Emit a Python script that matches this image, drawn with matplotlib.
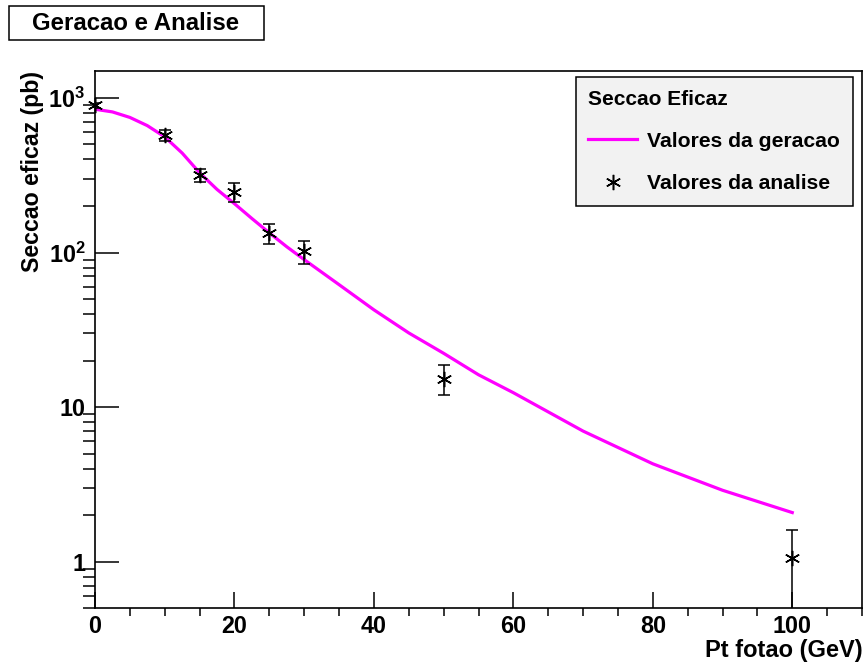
import matplotlib
matplotlib.use("Agg")
import matplotlib.pyplot as plt
from matplotlib.ticker import FixedLocator, LogLocator, MultipleLocator, NullFormatter, FixedFormatter
import numpy as np

# generation curve
curve_pt = [0, 2.5, 5, 7.5, 10, 12.5, 15, 17.5, 20, 22.5, 25, 27.5, 30, 35, 40, 45,
            50, 55, 60, 70, 80, 90, 100]
curve_xsec = [845, 812, 748, 662, 560, 440, 328, 256, 207, 166, 134, 109, 90, 62, 42.6,
              30.2, 22.3, 16.2, 12.4, 7.0, 4.3, 2.9, 2.08]

# analysis points
ana_pt = [0, 10, 15, 20, 25, 30, 50, 100]
ana_xsec = [897, 574, 317, 246, 134, 102, 15.3, 1.05]
ana_err = [30, 46, 30, 34, 20, 17.5, 3.4, 0.56]

y_ticks = [1, 10, 100, 1000]
y_labels = ["1", "10", r"$10^{2}$", r"$10^{3}$"]

plt.rcParams["font.family"] = ["Liberation Sans", "DejaVu Sans"]
plt.rcParams["font.weight"] = "bold"
plt.rcParams["mathtext.fontset"] = "custom"
plt.rcParams["mathtext.rm"] = "Liberation Sans:bold"
plt.rcParams["mathtext.it"] = "Liberation Sans:bold"
plt.rcParams["mathtext.bf"] = "Liberation Sans:bold"


def main() -> None:
    fig = plt.figure(figsize=(8.65, 6.66), dpi=100)
    W, H = 865, 666
    ax = fig.add_axes([95 / W, 1 - 608.3 / H, (862 - 95) / W, (608.3 - 70.7) / H])

    ax.plot(curve_pt, curve_xsec, color="#ff00ff", lw=2.3, label="Valores da geracao")
    ax.errorbar(ana_pt, ana_xsec, yerr=ana_err, fmt="none", ecolor="black",
                elinewidth=1.1, capsize=4, capthick=1.1)
    ax.plot(ana_pt, ana_xsec, ls="none", marker=(6, 2, 0), ms=11, mew=1.1,
            color="black", clip_on=False, label="Valores da analise")

    ax.set_yscale("log")
    ax.set_xlim(0, 110)
    ax.set_ylim(0.5, 1500)

    ax.xaxis.set_major_locator(MultipleLocator(20))
    ax.xaxis.set_minor_locator(MultipleLocator(5))
    ax.yaxis.set_major_locator(FixedLocator(y_ticks))
    ax.yaxis.set_major_formatter(FixedFormatter(y_labels))
    ax.yaxis.set_minor_locator(LogLocator(base=10, subs=np.arange(2, 10)))
    ax.yaxis.set_minor_formatter(NullFormatter())

    ax.tick_params(axis="both", direction="in", top=False, right=False,
                   labelsize=16.8, width=1.1)
    ax.tick_params(axis="x", which="major", length=11.3, pad=5)
    ax.tick_params(axis="x", which="minor", length=5.8, width=1.1)
    ax.tick_params(axis="y", which="major", length=17, pad=7)
    ax.tick_params(axis="y", which="minor", length=8.6, width=1.1)
    for label in ax.get_xticklabels() + ax.get_yticklabels():
        label.set_fontweight("bold")
    for spine in ax.spines.values():
        spine.set_linewidth(1.2)

    ax.set_ylabel("Seccao eficaz (pb)", fontsize=16.7, fontweight="bold",
                  loc="top", va="center")
    ax.yaxis.set_label_coords((33 - 95) / (862 - 95), 1.0)
    fig.text(863 / W, 1 - 650 / H, "Pt fotao (GeV)", ha="right", va="center",
             fontsize=17, fontweight="bold")

    leg = ax.legend(title="Seccao Eficaz", loc="upper right",
                    bbox_to_anchor=((853 - 95) / (862 - 95), 1 - (77 - 70.7) / (608.3 - 70.7)),
                    fontsize=15.2, title_fontproperties={"size": 15, "weight": "bold"},
                    alignment="left", fancybox=False, framealpha=1,
                    facecolor="#f2f2f2", edgecolor="black",
                    handlelength=2.3, handletextpad=0.5, labelspacing=1.1,
                    borderpad=0.6, borderaxespad=0)
    leg.get_frame().set_linewidth(1.1)
    for text in leg.get_texts():
        text.set_fontweight("bold")

    fig.patches.append(plt.Rectangle((9 / W, 1 - 40 / H), (264 - 9) / W, 34 / H,
                                     transform=fig.transFigure, facecolor="white",
                                     edgecolor="black", linewidth=1.1))
    fig.text(136 / W, 1 - 24 / H, "Geracao e Analise", ha="center", va="center",
             fontsize=17.3, fontweight="bold")

    fig.savefig("out.png", dpi=100)
    plt.close(fig)


if __name__ == "__main__":
    main()
